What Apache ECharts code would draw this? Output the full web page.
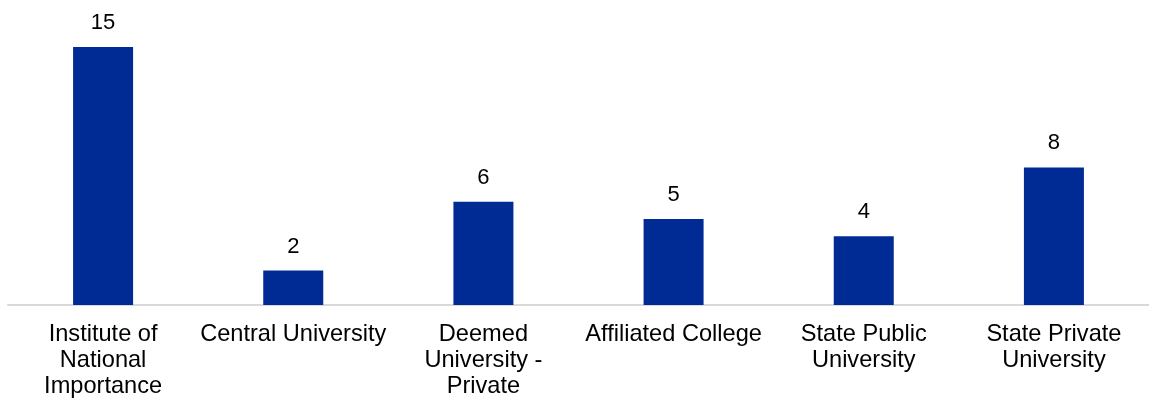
<!DOCTYPE html>
<html>
<head>
<meta charset="utf-8">
<script src="https://cdn.jsdelivr.net/npm/echarts@6/dist/echarts.min.js"></script>
<style>
html,body{margin:0;padding:0;background:#fff;}
#chart{width:1149px;height:402px;}
</style>
</head>
<body>
<div id="chart"></div>
<script>
const categories = [
  "Institute of\nNational\nImportance",
  "Central University",
  "Deemed\nUniversity -\nPrivate",
  "Affiliated College",
  "State Public\nUniversity",
  "State Private\nUniversity"
];
const values = [15, 2, 6, 5, 4, 8];

const chart = echarts.init(document.getElementById('chart'));
chart.setOption({
  animation: false,
  grid: { left: 8, width: 1144, top: 47, bottom: 97, containLabel: false },
  xAxis: {
    type: 'category',
    data: categories,
    axisLine: { show: true, lineStyle: { color: '#d9d9d9', width: 2 } },
    axisTick: { show: false },
    axisLabel: {
      interval: 0,
      margin: 16,
      color: '#000',
      fontFamily: 'Liberation Sans, Arial, sans-serif',
      fontSize: 23.6,
      lineHeight: 26
    }
  },
  yAxis: {
    type: 'value',
    min: 0,
    max: 15,
    show: false,
    splitLine: { show: false }
  },
  series: [{
    type: 'bar',
    data: values,
    barWidth: 60,
    itemStyle: { color: '#002a94' },
    label: {
      show: true,
      position: 'top',
      distance: 13,
      color: '#000',
      fontFamily: 'Liberation Sans, Arial, sans-serif',
      fontSize: 22
    }
  }]
});
</script>
</body>
</html>
